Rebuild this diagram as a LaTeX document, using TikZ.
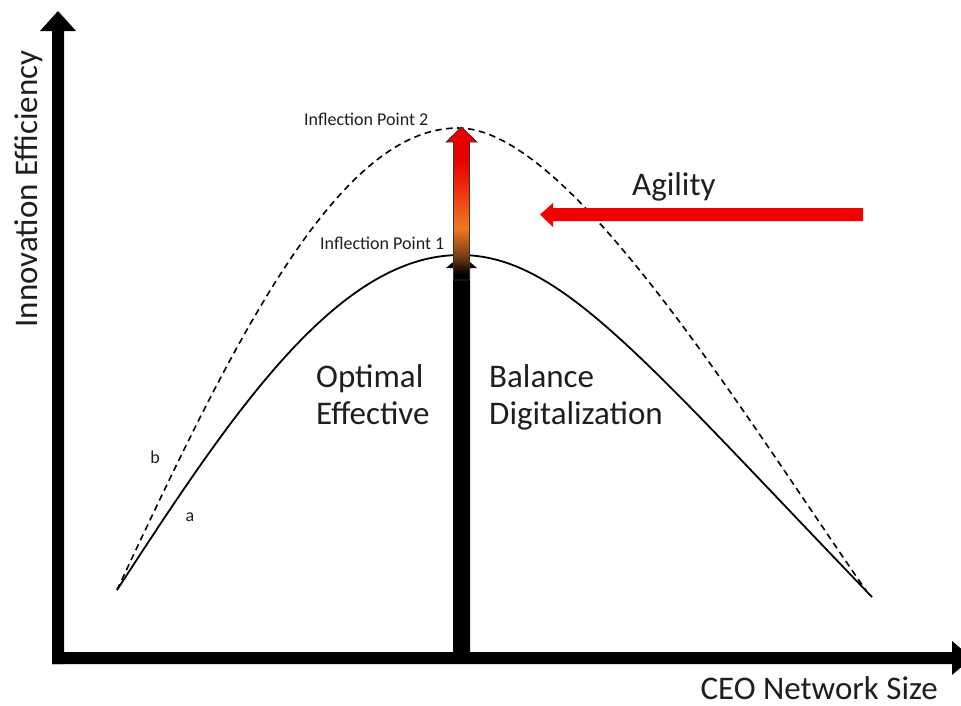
\documentclass[tikz,border=0pt]{standalone}
\usepackage{fontspec}
\setmainfont{Carlito}
\definecolor{ipbrown}{RGB}{125,62,22}
\definecolor{iporange}{RGB}{240,120,35}
\definecolor{ipredor}{RGB}{236,52,16}
\definecolor{ipred}{RGB}{232,0,0}
\definecolor{agred}{RGB}{240,0,0}
\definecolor{txt}{RGB}{30,30,30}
\pgfdeclareverticalshading{ipshade}{100bp}{color(0bp)=(black); color(27bp)=(black); color(33bp)=(ipbrown); color(42bp)=(iporange); color(54bp)=(ipredor); color(64bp)=(ipred); color(100bp)=(ipred)}
\begin{document}
\begin{tikzpicture}[x=1pt,y=-1pt,
  bigtxt/.style={inner sep=0pt, text=txt, font=\fontsize{33}{37}\selectfont},
  smalltxt/.style={inner sep=0pt, text=txt, font=\fontsize{18}{20}\selectfont},
  curvea/.style={line width=1.8pt, black},
  curveb/.style={line width=1.6pt, black, dash pattern=on 6.5pt off 4.5pt}]
\useasboundingbox (0,0) rectangle (961,705);
\clip (0,0) rectangle (961,705);
% curves
\draw[curvea] plot[domain=117:460, samples=80] (\x, {255+335*(1-cos((460-\x)*0.262391))})
  .. controls (560,255) and (642,358) .. (872,597);
\draw[curveb] plot[domain=117:458, samples=80] (\x, {128+462*(1-cos((458-\x)*0.263930))})
  .. controls (568,128) and (736,403) .. (867,592);
% axes
\fill[black] (52,664) -- (52,31) -- (40,31) -- (58,11) -- (76,31) -- (64,31) -- (64,664) -- cycle;
\fill[black] (52,652) -- (952,652) -- (952,641) -- (972,658) -- (952,675) -- (952,664) -- (52,664) -- cycle;
% black vertical arrow
\fill[black] (453,658) -- (453,268) -- (446,268) -- (461.5,255) -- (477,268) -- (470,268) -- (470,658) -- cycle;
% gradient arrow
\path[shading=ipshade, draw=black!80, line width=0.7pt] (453.5,280) -- (453.5,142) -- (446,142) -- (461.5,127) -- (477,142) -- (469.5,142) -- (469.5,280) -- cycle;
% agility arrow
\fill[agred] (863,208) -- (553,208) -- (553,203) -- (540,214.5) -- (553,227) -- (553,221) -- (863,221) -- cycle;
% texts
\node[bigtxt, rotate=90, anchor=base] (ylab) at (37,189) {Innovation Efficiency};
\node[bigtxt, anchor=base east] (xlab) at (938,699) {CEO Network Size};
\node[bigtxt, anchor=base west] (agility) at (632,195) {Agility};
\node[bigtxt, anchor=north west, align=left] (opt) at (316,364) {Optimal\\Effective};
\node[bigtxt, anchor=north west, align=left] (bal) at (489,364) {Balance\\Digitalization};
\node[smalltxt, anchor=base west] (ip2) at (304,125) {Inflection Point 2};
\node[smalltxt, anchor=base west] (ip1) at (320,249) {Inflection Point 1};
\node[smalltxt, anchor=base] (lb) at (155,463) {b};
\node[smalltxt, anchor=base] (la) at (190,521) {a};
\end{tikzpicture}
\end{document}
